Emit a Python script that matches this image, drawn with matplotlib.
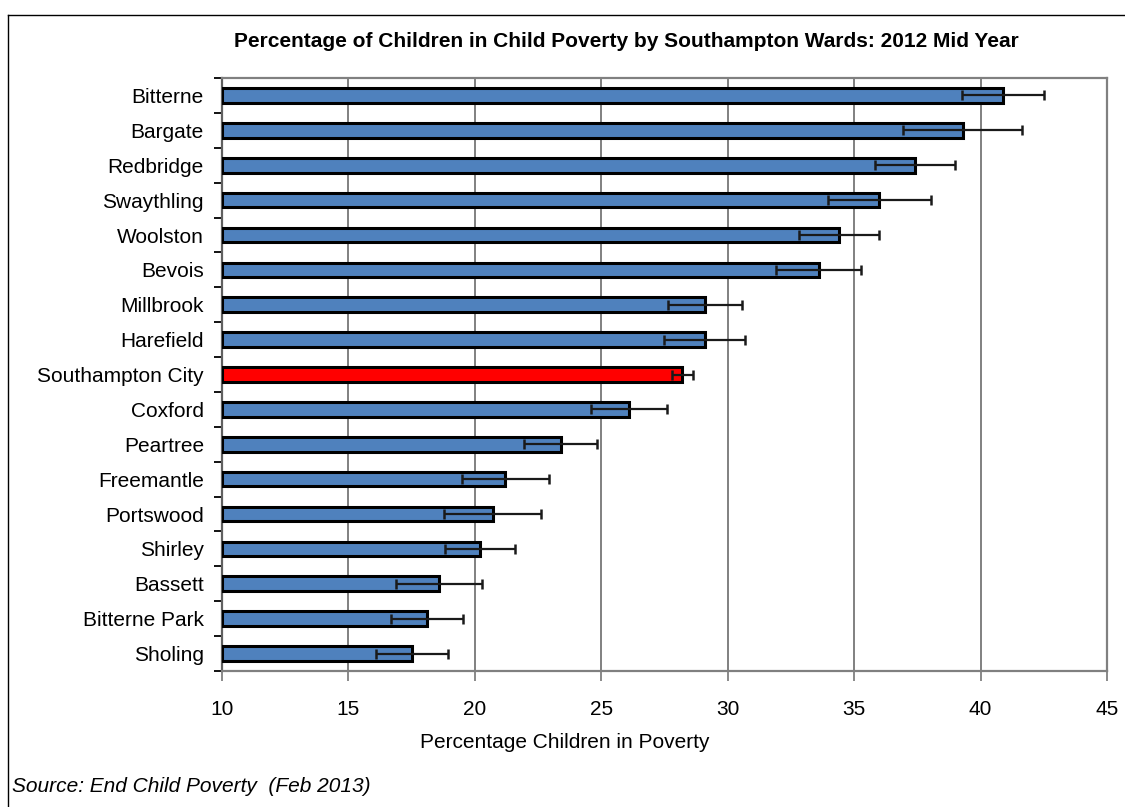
import numpy as np
import matplotlib
matplotlib.use("Agg")
from matplotlib import pyplot as plt
from matplotlib.lines import Line2D

plt.rcParams['font.family'] = ['Liberation Sans', 'DejaVu Sans']

# ward data, top to bottom as in the chart
wards = ['Bitterne', 'Bargate', 'Redbridge', 'Swaythling', 'Woolston', 'Bevois',
         'Millbrook', 'Harefield', 'Southampton City', 'Coxford', 'Peartree',
         'Freemantle', 'Portswood', 'Shirley', 'Bassett', 'Bitterne Park', 'Sholing']
pct = [40.9, 39.3, 37.4, 36.0, 34.4, 33.6, 29.1, 29.1, 28.2, 26.1, 23.4,
       21.2, 20.7, 20.2, 18.6, 18.1, 17.5]
err = [1.62, 2.35, 1.57, 2.03, 1.6, 1.68, 1.46, 1.6, 0.41, 1.5, 1.45,
       1.72, 1.9, 1.37, 1.7, 1.42, 1.42]
highlight = 'Southampton City'

x_ticks = [10, 15, 20, 25, 30, 35, 40, 45]

fig = plt.figure(figsize=(11.25, 8.07), dpi=100)
ax = fig.add_axes([0.1973, 0.1685, 0.7867, 0.7348])

ypos = np.arange(len(wards))
colors = ['#FF0000' if w == highlight else '#4F81BD' for w in wards]

ax.barh(ypos, np.array(pct) - 10, left=10, height=0.42, color=colors,
        edgecolor='black', linewidth=2.2, zorder=3)
ax.errorbar(pct, ypos, xerr=err, fmt='none', ecolor='#1a1a1a', elinewidth=1.6,
            capsize=3.5, capthick=1.8, zorder=4)

ax.set_xlim(10, 45)
ax.set_ylim(len(wards) - 0.5, -0.5)
ax.set_xticks(x_ticks)
ax.set_xticklabels([str(t) for t in x_ticks], fontsize=15)
ax.tick_params(axis='x', length=7, width=1.3, color='#808080', pad=14)

ax.set_yticks(ypos)
ax.set_yticklabels(wards, fontsize=15)
ax.set_yticks(np.arange(-0.5, len(wards), 1.0), minor=True)
ax.tick_params(axis='y', which='major', length=0, pad=13)
ax.tick_params(axis='y', which='minor', length=6, width=1.3, color='black')

ax.grid(axis='x', color='#808080', linewidth=1.4, zorder=0)
ax.set_axisbelow(True)
for side in ['top', 'right', 'bottom']:
    ax.spines[side].set_color('#808080')
    ax.spines[side].set_linewidth(1.6)
ax.spines['left'].set_color('#606060')
ax.spines['left'].set_linewidth(1.6)

# axis label sits left of the plot centre in the original
fig.text(0.502, 0.0805, 'Percentage Children in Poverty', ha='center', va='center',
         fontsize=15)

fig.text(0.557, 0.948, 'Percentage of Children in Child Poverty by Southampton Wards: 2012 Mid Year',
         ha='center', va='center', fontsize=15, fontweight='bold')
fig.text(0.011, 0.026, 'Source: End Child Poverty  (Feb 2013)', ha='left', va='center',
         fontsize=15, style='italic')

# outer chart frame (top and left edges visible)
fig.add_artist(Line2D([8 / 1125, 1.0], [1 - 15 / 807, 1 - 15 / 807],
                      transform=fig.transFigure, color='black', linewidth=1))
fig.add_artist(Line2D([8 / 1125, 8 / 1125], [0.0, 1 - 15 / 807],
                      transform=fig.transFigure, color='black', linewidth=1))

fig.savefig('out.png', dpi=100)
